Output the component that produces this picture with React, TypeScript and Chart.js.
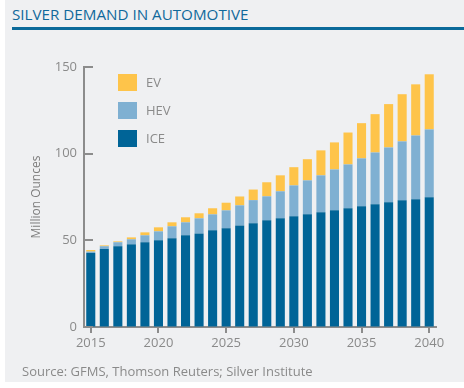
import React, { useEffect, useRef } from "react";
import { Chart, registerables } from "chart.js";

Chart.register(...registerables);

const years: string[] = [
  "2015","2016","2017","2018","2019","2020","2021","2022","2023","2024","2025","2026","2027",
  "2028","2029","2030","2031","2032","2033","2034","2035","2036","2037","2038","2039","2040",
];
const iceValues: number[] = [
  42.7, 45.0, 46.6, 47.7, 48.9, 50.0, 51.2, 52.9, 54.0, 55.8, 56.9, 58.6, 59.8,
  61.6, 62.7, 63.9, 65.0, 66.2, 67.3, 68.5, 69.6, 70.8, 71.9, 73.1, 73.7, 74.8,
];
const hevValues: number[] = [
  0.8, 1.6, 2.3, 2.9, 4.0, 5.2, 6.9, 7.5, 8.7, 9.2, 10.4, 11.6, 13.4,
  13.8, 15.6, 17.8, 19.6, 21.3, 23.6, 25.3, 27.7, 29.9, 31.7, 34.0, 36.8, 39.2,
];
const evValues: number[] = [
  0.9, 0.5, 0.5, 1.1, 1.7, 2.3, 2.3, 2.9, 2.9, 3.5, 4.4, 5.1, 6.1,
  8.1, 9.2, 10.5, 12.2, 14.4, 15.6, 18.4, 20.3, 22.1, 25.0, 27.2, 29.5, 31.8,
];
const yTicks: number[] = [0, 50, 100, 150];

const FONT = "'Open Sans', 'Noto Sans', sans-serif";
const GRAY = "#8a8a8a";
const AXIS = "#8c8c8c";
const C_EV = "#fec44a";
const C_HEV = "#7fb0d2";
const C_ICE = "#006497";

const extras = {
  id: "extras",
  afterDraw(chart: any) {
    const ctx = chart.ctx;
    const y = chart.scales.y;
    const area = chart.chartArea;
    ctx.save();
    ctx.strokeStyle = AXIS;
    ctx.lineWidth = 2;
    yTicks.forEach((v) => {
      const py = Math.round(y.getPixelForValue(v));
      ctx.beginPath();
      ctx.moveTo(area.left, py);
      ctx.lineTo(area.left + 9, py);
      ctx.stroke();
    });
    ctx.fillStyle = "#7d7d7d";
    ctx.font = `12px ${FONT}`;
    ctx.textAlign = "center";
    ctx.textBaseline = "middle";
    ctx.translate(37, 197);
    ctx.rotate(-Math.PI / 2);
    ctx.fillText("Million Ounces", 0, 0);
    ctx.restore();
    ctx.save();
    const items = [
      { label: "EV", color: C_EV },
      { label: "HEV", color: C_HEV },
      { label: "ICE", color: C_ICE },
    ];
    ctx.font = `13px ${FONT}`;
    ctx.textBaseline = "middle";
    ctx.textAlign = "left";
    items.forEach((it, i) => {
      const top = 74 + i * 28;
      ctx.fillStyle = it.color;
      ctx.fillRect(118, top, 19, 17);
      ctx.fillStyle = GRAY;
      ctx.fillText(it.label, 146, top + 9);
    });
    ctx.restore();
  },
};

export default function App() {
  const ref = useRef<HTMLCanvasElement | null>(null);
  useEffect(() => {
    if (!ref.current) return;
    const chart = new Chart(ref.current, {
      type: "bar",
      data: {
        labels: years,
        datasets: [
          { label: "ICE", data: iceValues, backgroundColor: C_ICE },
          { label: "HEV", data: hevValues, backgroundColor: C_HEV },
          { label: "EV", data: evValues, backgroundColor: C_EV },
        ],
      },
      options: {
        responsive: false,
        animation: false,
        layout: { padding: { left: 0, top: 67, right: 28, bottom: 0 } },
        datasets: { bar: { categoryPercentage: 0.67, barPercentage: 1 } },
        plugins: { legend: { display: false }, tooltip: { enabled: false } },
        scales: {
          x: {
            stacked: true,
            offset: true,
            afterFit: (s: any) => {
              s.height = 61;
            },
            border: { display: true, color: AXIS, width: 2 },
            grid: {
              offset: false,
              drawOnChartArea: false,
              drawTicks: true,
              tickLength: 6,
              lineWidth: 2,
              color: (c: any) => (c.index % 5 === 0 ? AXIS : "rgba(0,0,0,0)"),
            },
            ticks: {
              autoSkip: false,
              maxRotation: 0,
              padding: 2,
              color: GRAY,
              font: { family: FONT, size: 13 },
              callback: (_v: any, i: number) => (i % 5 === 0 ? years[i] : ""),
            },
          },
          y: {
            stacked: true,
            min: 0,
            max: 150,
            afterFit: (s: any) => {
              s.width = 84;
            },
            afterBuildTicks: (s: any) => {
              s.ticks = yTicks.map((v) => ({ value: v }));
            },
            border: { display: true, color: AXIS, width: 2 },
            grid: { drawOnChartArea: false, drawTicks: false },
            ticks: {
              padding: 7,
              color: GRAY,
              font: { family: FONT, size: 13 },
            },
          },
        },
      },
      plugins: [extras],
    });
    return () => chart.destroy();
  }, []);

  return (
    <div style={{ position: "fixed", left: 0, top: 0, width: 464, height: 388, background: "#ffffff", overflow: "hidden" }}>
      <div style={{ position: "absolute", left: 5, top: 0, width: 459, height: 382, background: "#eff0f2" }} />
      <div
        style={{
          position: "absolute",
          left: 12,
          top: 5,
          fontFamily: FONT,
          fontSize: 15.2,
          color: "#11699b",
          whiteSpace: "nowrap",
          lineHeight: "18px",
        }}
      >
        SILVER DEMAND IN AUTOMOTIVE
      </div>
      <div style={{ position: "absolute", left: 12, top: 27, width: 452, height: 3, background: "#0b6a9a" }} />
      <canvas ref={ref} width={464} height={388} style={{ position: "absolute", left: 0, top: 0, width: 464, height: 388 }} />
      <div
        style={{
          position: "absolute",
          left: 22,
          top: 362,
          fontFamily: FONT,
          fontSize: 13,
          color: GRAY,
          whiteSpace: "nowrap",
          lineHeight: "18px",
        }}
      >
        Source: GFMS, Thomson Reuters; Silver Institute
      </div>
    </div>
  );
}
